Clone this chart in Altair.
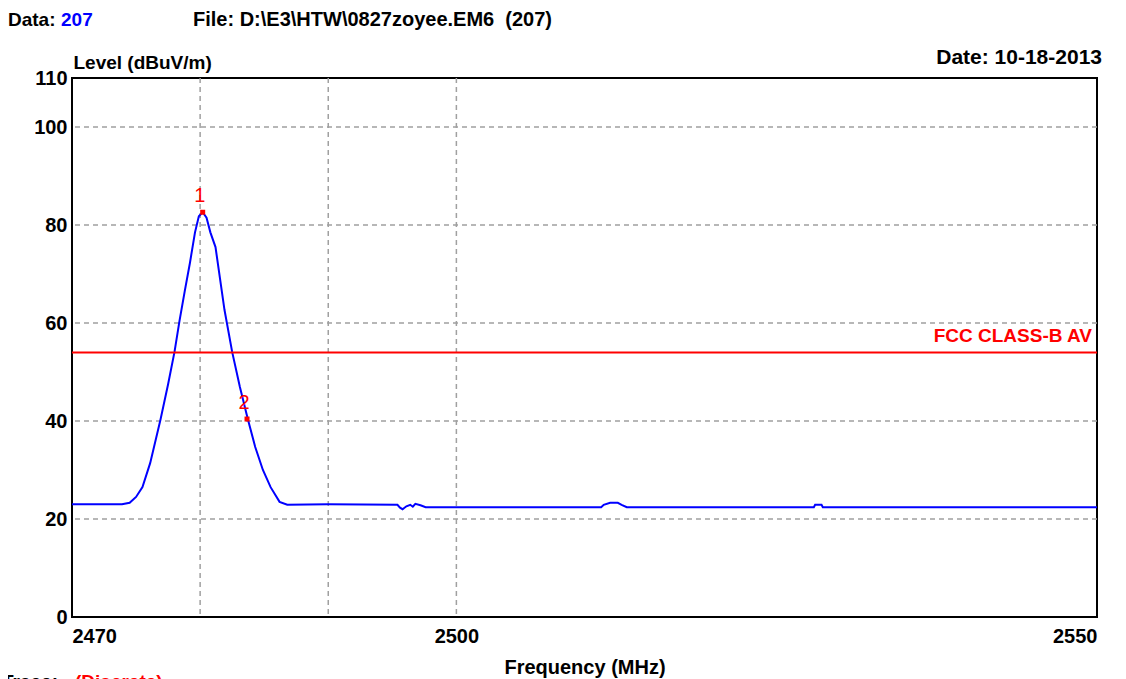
import altair as alt
import pandas as pd

# ---- data ----
freq = [2470.0, 2473.9, 2474.5, 2475.0, 2475.5, 2476.1, 2476.9, 2477.5, 2478.0, 2478.4,
        2478.8, 2479.2, 2479.6, 2479.9, 2480.2, 2480.5, 2480.8, 2481.2, 2481.9, 2482.5,
        2483.1, 2483.7, 2484.3, 2484.9, 2485.5, 2486.2, 2486.8, 2490.0, 2495.4, 2495.6,
        2495.8, 2496.1, 2496.4, 2496.6, 2496.8, 2497.2, 2497.6, 2511.3, 2511.5, 2512.0,
        2512.6, 2512.9, 2513.3, 2527.9, 2528.0, 2528.5, 2528.6, 2550.0]
level = [23.0, 23.0, 23.3, 24.5, 26.5, 31.4, 40.2, 47.5, 54.1, 60.6,
         66.5, 72.2, 78.5, 81.8, 82.6, 81.5, 78.5, 75.5, 62.7, 54.1,
         47.0, 40.6, 34.7, 30.0, 26.5, 23.5, 22.9, 23.0, 22.9, 22.3,
         22.0, 22.6, 22.9, 22.5, 23.1, 22.8, 22.4, 22.4, 22.9, 23.3,
         23.3, 22.9, 22.4, 22.4, 22.9, 22.9, 22.4, 22.4]

limit_level = [54]
limit_name = ["FCC CLASS-B AV"]
marker_freq = [2480.2, 2483.66]
marker_level = [82.6, 40.4]
marker_label = ["1", "2"]
grid_x = [2480, 2490, 2500]
grid_y = [20, 40, 60, 80, 100]
y_ticks = [0, 20, 40, 60, 80, 100, 110]
x_ticks = [2470, 2500, 2550]

FONT = "Liberation Sans, Arial"

xs = alt.Scale(domain=[2470, 2550], nice=False, zero=False)
ys = alt.Scale(domain=[0, 110], nice=False, zero=True)

trace_df = pd.DataFrame({"f": freq, "l": level})
limit_df = pd.DataFrame({"l": limit_level, "name": limit_name, "f": [2550]})
marker_df = pd.DataFrame({"f": marker_freq, "l": marker_level, "lab": marker_label})
gx_df = pd.DataFrame({"f": grid_x})
gy_df = pd.DataFrame({"l": grid_y})

x_axis = alt.Axis(values=x_ticks, format="d", labelFlush=True, grid=False, ticks=False,
                  domain=False, labelPadding=9, labelFontSize=20, labelFontWeight="bold",
                  labelColor="black", title="Frequency (MHz)", titleFontSize=20,
                  titleFontWeight="bold", titleColor="black", titleY=50, titleBaseline="middle")
y_axis = alt.Axis(values=y_ticks, format="d", grid=False, ticks=False, domain=False,
                  labelPadding=5, labelFontSize=20, labelFontWeight="bold", labelColor="black",
                  title="Level (dBuV/m)", titleAngle=0, titleAlign="left", titleX=1,
                  titleY=-16, titleBaseline="middle", titleFontSize=19,
                  titleFontWeight="bold", titleColor="black")

X = alt.X("f:Q", scale=xs, axis=x_axis)
Y = alt.Y("l:Q", scale=ys, axis=y_axis)

gridv = alt.Chart(gx_df).mark_rule(color="#a0a0a0", strokeWidth=1.5, strokeDash=[5, 4]).encode(x=X)
gridh = alt.Chart(gy_df).mark_rule(color="#a0a0a0", strokeWidth=1.5, strokeDash=[5, 4]).encode(y=Y)

line = alt.Chart(trace_df).mark_line(color="#0000ff", strokeWidth=2).encode(x=X, y=Y)

limit = alt.Chart(limit_df).mark_rule(color="#ff0000", strokeWidth=2).encode(y=Y)
limit_text = alt.Chart(limit_df).mark_text(
    color="#ff0000", font=FONT, fontSize=19, fontWeight="bold", align="right",
    baseline="middle", dx=-5, dy=-16
).encode(x=X, y=Y, text="name:N")

markers = alt.Chart(marker_df).mark_point(shape="square", filled=True, color="#ff0000",
                                          size=25, opacity=1).encode(x=X, y=Y)
marker_text = alt.Chart(marker_df).mark_text(
    color="#ff0000", font=FONT, fontSize=20, align="center", baseline="middle", dx=-3, dy=-16
).encode(x=X, y=Y, text="lab:N")


def label(txt, x, y, color="black", align="left", size=19):
    return alt.Chart(pd.DataFrame({"t": [txt]})).mark_text(
        font=FONT, fontSize=size, fontWeight="bold", color=color, align=align, baseline="middle"
    ).encode(text="t:N", x=alt.value(x), y=alt.value(y))


headers = [
    label("Data:", -64, -58),
    label("207", -11, -58, color="#0000ff"),
    label("File: D:\\E3\\HTW\\0827zoyee.EM6\u00a0\u00a0(207)", 121, -58, size=20),
    label("Date: 10-18-2013", 1030, -20, align="right", size=21),
    label("Trace:", -70, 604),
    label("(Discrete)", 3, 604, color="#ff0000"),
]

chart = alt.layer(gridv, gridh, line, limit, limit_text, markers, marker_text, *headers).properties(
    width=1025,
    height=539,
    autosize=alt.AutoSizeParams(type="none"),
    padding={"left": 64, "top": 70, "right": 21, "bottom": 62},
).configure(font=FONT).configure_view(stroke="black", strokeWidth=2).configure_axis(
    labelFont=FONT, titleFont=FONT
)

chart.save("out.html", embed_options={"renderer": "svg", "actions": False})
